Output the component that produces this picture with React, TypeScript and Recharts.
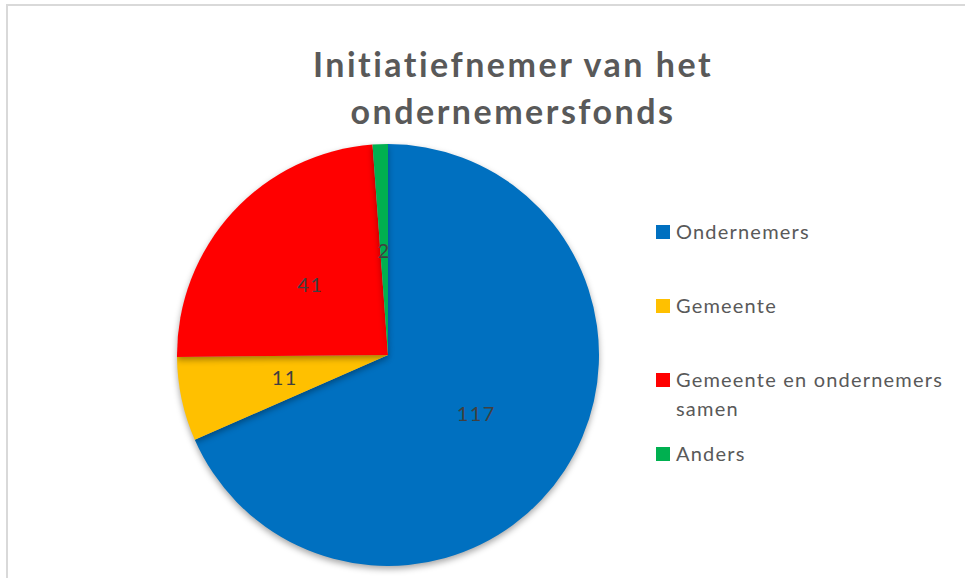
import { PieChart, Pie, Cell, Legend } from "recharts";

// Initiatiefnemer van het ondernemersfonds
const categories = ["Ondernemers", "Gemeente", "Gemeente en ondernemers samen", "Anders"];
const counts = [117, 11, 41, 2];
const colors = ["#0070C0", "#FFC000", "#FF0000", "#00B050"];
const titleLines = ["Initiatiefnemer van het", "ondernemersfonds"];

const data = categories.map((name, i) => ({ name, value: counts[i] }));

const RAD = Math.PI / 180;
const FONT = "Lato, 'Open Sans', sans-serif";

function renderLabel(props: any) {
  const { cx, cy, midAngle, innerRadius, outerRadius, value } = props;
  const r = innerRadius + (outerRadius - innerRadius) * 0.5;
  const x = cx + r * Math.cos(-midAngle * RAD);
  const y = cy + r * Math.sin(-midAngle * RAD);
  return (
    <text
      x={x}
      y={y}
      textAnchor="middle"
      dominantBaseline="central"
      fill="#404040"
      fontSize={20}
      letterSpacing={1.5}
      fontFamily={FONT}
    >
      {value}
    </text>
  );
}

function LegendContent({ payload }: any) {
  // keep the order of the categories, not the alphabetic one
  const items = [...(payload || [])].sort(
    (a: any, b: any) => categories.indexOf(a.value) - categories.indexOf(b.value)
  );
  return (
    <div style={{ fontFamily: FONT, fontSize: 20, letterSpacing: 1.2, color: "#595959" }}>
      {items.map((p: any) => (
        <div key={p.value} style={{ height: 74, display: "flex", alignItems: "flex-start" }}>
          <span style={{ width: 14, height: 14, background: p.color, marginTop: 8, marginRight: 6, flex: "none" }} />
          <span style={{ width: 285, lineHeight: "29px" }}>{p.value}</span>
        </div>
      ))}
    </div>
  );
}

export default function App() {
  return (
    <div style={{ position: "fixed", left: 0, top: 0, width: 965, height: 578, overflow: "hidden", background: "#fff" }}>
      <div
        style={{
          position: "absolute",
          left: 6,
          top: 4,
          width: 1000,
          height: 1000,
          borderTop: "2px solid #d9d9d9",
          borderLeft: "2px solid #d9d9d9",
        }}
      />
      <div
        style={{
          position: "absolute",
          left: 213,
          top: 40,
          width: 600,
          textAlign: "center",
          fontFamily: FONT,
          fontWeight: 700,
          fontSize: 34,
          letterSpacing: 2.5,
          lineHeight: "47px",
          color: "#595959",
        }}
      >
        {titleLines.map((t) => (
          <div key={t}>{t}</div>
        ))}
      </div>
      <div style={{ position: "absolute", left: 0, top: 0 }}>
        <PieChart width={965} height={578} margin={{ top: 0, right: 0, bottom: 0, left: 0 }}>
          <Pie
            data={data}
            dataKey="value"
            nameKey="name"
            cx={388}
            cy={355}
            outerRadius={211}
            startAngle={90}
            endAngle={-270}
            stroke="none"
            labelLine={false}
            label={renderLabel}
            isAnimationActive={false}
          >
            {data.map((d, i) => (
              <Cell key={d.name} fill={colors[i]} style={{ filter: "drop-shadow(0px 3px 3px rgba(0,0,0,0.35))" }} />
            ))}
          </Pie>
          <Legend
            layout="vertical"
            align="right"
            verticalAlign="top"
            content={<LegendContent />}
            wrapperStyle={{ position: "absolute", left: 656, top: 217, width: 305 }}
          />
        </PieChart>
      </div>
    </div>
  );
}
